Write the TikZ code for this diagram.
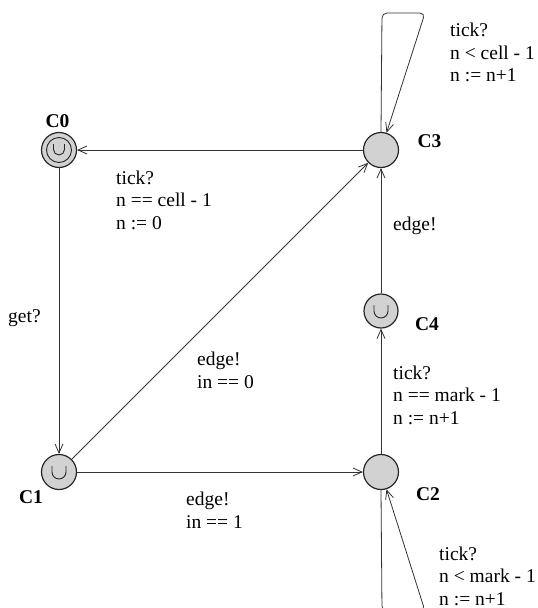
\documentclass[tikz,border=0pt]{standalone}
\usepackage{fontspec}
\setmainfont{Liberation Serif}
\usetikzlibrary{arrows.meta}
\begin{document}
\begin{tikzpicture}[x=1pt,y=1pt,
  loc/.style={circle,draw=black!85,line width=1.2pt,fill=gray!35,minimum size=35pt,inner sep=0pt},
  smallloc/.style={loc,minimum size=34pt},
  trans/.style={draw=black!80,line width=0.8pt,-{Straight Barb[length=9pt,width=8pt,line width=0.8pt]}},
  selfloop/.style={trans,rounded corners=5pt},
  lab/.style={anchor=north west,inner sep=0pt,align=left,font=\fontsize{19.5}{22.5}\selectfont},
  locname/.style={inner sep=0pt,font=\fontsize{19.5}{22}\selectfont\bfseries},
  urg/.style={draw=black!85,line width=0.9pt}
]
\useasboundingbox (0,0) rectangle (538,-608);
\begin{scope}
\clip (0,0) rectangle (538,-608);
% locations
\node[loc] (C0) at (59,-150) {};
\node[circle,draw=black!85,line width=0.9pt,minimum size=25pt,inner sep=0pt] (C0in) at (C0) {};
\node[loc] (C3) at (381,-150) {};
\node[loc] (C1) at (59,-472) {};
\node[loc] (C2) at (381,-472) {};
\node[smallloc] (C4) at (381,-311) {};
% urgent marks
\draw[urg] ([xshift=-5.5pt,yshift=6pt]C0.center) -- ([xshift=-5.5pt,yshift=0.5pt]C0.center) arc[start angle=180,end angle=360,radius=5.5pt] -- ([xshift=5.5pt,yshift=6pt]C0.center);
\draw[urg] ([xshift=-7pt,yshift=6pt]C1.center) -- ([xshift=-7pt,yshift=0pt]C1.center) arc[start angle=180,end angle=360,radius=7pt] -- ([xshift=7pt,yshift=6pt]C1.center);
\draw[urg] ([xshift=-7pt,yshift=6pt]C4.center) -- ([xshift=-7pt,yshift=0pt]C4.center) arc[start angle=180,end angle=360,radius=7pt] -- ([xshift=7pt,yshift=6pt]C4.center);
% names
\node[locname] (nC0) at (57.5,-121) {C0};
\node[locname] (nC3) at (429.5,-141) {C3};
\node[locname] (nC1) at (31,-497) {C1};
\node[locname] (nC2) at (428,-494) {C2};
\node[locname] (nC4) at (427,-324) {C4};
% edges
\draw[trans] (C3) -- (C0);
\draw[trans] (C0) -- (C1);
\draw[trans] (C1) -- (C3);
\draw[trans] (C1) -- (C2);
\draw[trans] (C2) -- (C4);
\draw[trans] (C4) -- (C3);
% self loops
\coordinate (t1) at (382,-13);
\coordinate (t2) at (425,-13);
\draw[selfloop] (C3.north) -- (t1) -- (t2) -- (C3);
\coordinate (b1) at (382,-611);
\coordinate (b2) at (425,-611);
\draw[selfloop] (C2.south) -- (b1) -- (b2) -- (C2);
% labels
\node[lab] (l30) at (116,-170.5) {tick?\\n == cell - 1\\n := 0};
\node[lab] (l01) at (8,-309) {get?};
\node[lab] (l13) at (197,-352) {edge!\\in == 0};
\node[lab] (l12) at (186,-492) {edge!\\in == 1};
\node[lab] (l24) at (393,-365.5) {tick?\\n == mark - 1\\n := n+1};
\node[lab] (l43) at (393,-217) {edge!};
\node[lab] (l33) at (450,-23) {tick?\\n < cell - 1\\n := n+1};
\node[lab] (l22) at (439,-546.5) {tick?\\n < mark - 1\\n := n+1};
\end{scope}
\end{tikzpicture}
\end{document}
